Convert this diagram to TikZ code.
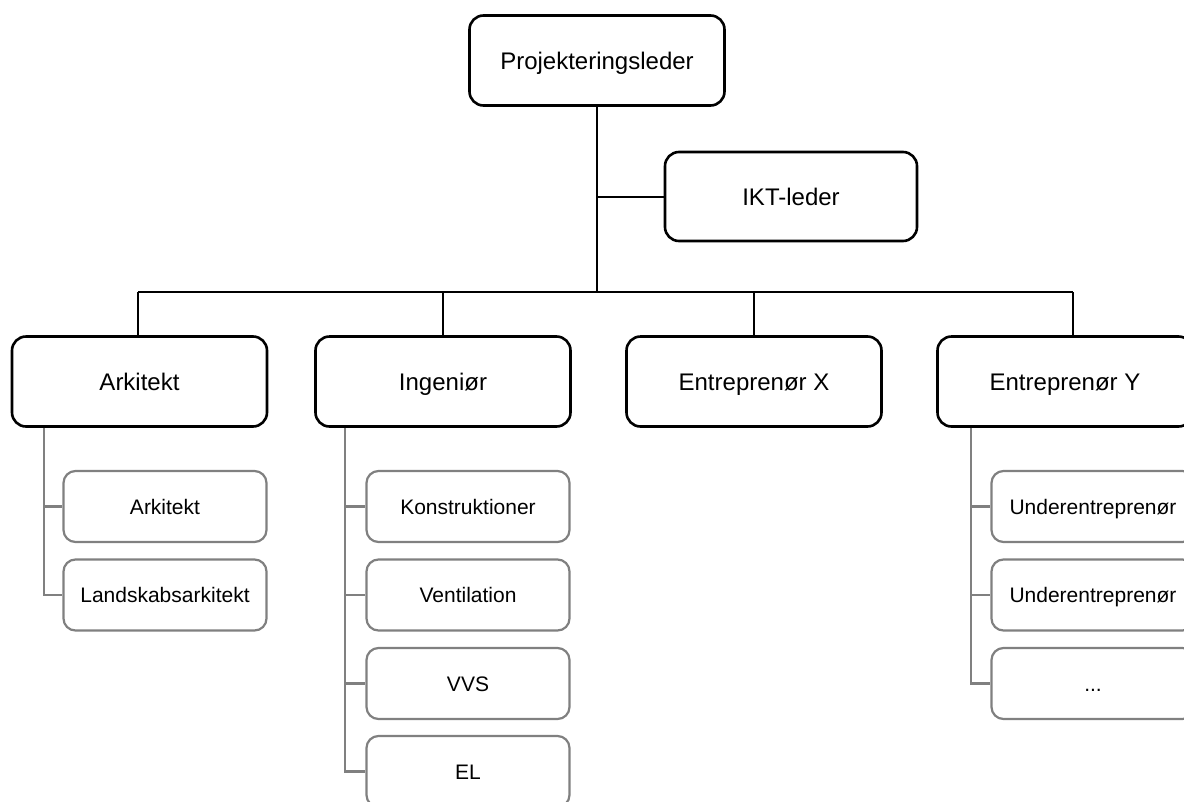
\documentclass[tikz,border=0pt]{standalone}
\usepackage{fontspec}
\setmainfont{Liberation Sans}
\begin{document}
\begin{tikzpicture}[x=1pt,y=-1pt,
  main/.style={draw=black, line width=2.6pt, rounded corners=14pt, minimum width=255pt, minimum height=90pt, font=\fontsize{24}{28}\selectfont, fill=white, inner sep=0pt, text height=22pt, text depth=5pt},
  sub/.style={draw=black!50, line width=2.2pt, rounded corners=12pt, minimum width=203pt, minimum height=71pt, font=\fontsize{21}{25}\selectfont, fill=white, inner sep=0pt, text height=19pt, text depth=4pt},
  link/.style={line width=2pt, draw=black},
  sublink/.style={line width=2.2pt, draw=black!50}]
\useasboundingbox (0,0) rectangle (1184,801);
\fill[white] (0,0) rectangle (1184,801);
\clip (0,0) rectangle (1184,801);
% main nodes
\node[main] (pl) at (597,60.5) {Projekteringsleder};
\node[main, minimum width=252pt, minimum height=89pt] (ikt) at (791,196.5) {IKT-leder};
\node[main] (ark) at (139.5,381.5) {Arkitekt};
\node[main] (ing) at (443,381.5) {Ingeniør};
\node[main] (ex) at (754,381.5) {Entreprenør X};
\node[main] (ey) at (1065,381.5) {Entreprenør Y};
% bus coordinates
\coordinate (hub) at (597,292);
\coordinate (b1) at (138,292);
\coordinate (b2) at (443,292);
\coordinate (b3) at (754,292);
\coordinate (b4) at (1073,292);
\draw[link] (pl.south) -- (hub);
\draw[link] (pl.south |- ikt.west) -- (ikt.west);
\draw[link] (b1) -- (b4);
\draw[link] (b1) -- (b1 |- ark.north);
\draw[link] (b2) -- (b2 |- ing.north);
\draw[link] (b3) -- (b3 |- ex.north);
\draw[link] (b4) -- (b4 |- ey.north);
% sub nodes
\node[sub] (a1) at (165,506.5) {Arkitekt};
\node[sub] (a2) at (165,595) {Landskabsarkitekt};
\node[sub] (i1) at (468,506.5) {Konstruktioner};
\node[sub] (i2) at (468,595) {Ventilation};
\node[sub] (i3) at (468,683.5) {VVS};
\node[sub] (i4) at (468,771.5) {EL};
\node[sub] (y1) at (1093,506.5) {Underentreprenør};
\node[sub] (y2) at (1093,595) {Underentreprenør};
\node[sub] (y3) at (1093,683.5) {...};
% sub stems
\coordinate (sa) at (44,0);
\coordinate (si) at (345,0);
\coordinate (sy) at (971,0);
\draw[sublink] (sa |- ark.south) |- (a2.west);
\draw[sublink] (sa |- a1.west) -- (a1.west);
\draw[sublink] (si |- ing.south) |- (i4.west);
\draw[sublink] (si |- i1.west) -- (i1.west);
\draw[sublink] (si |- i2.west) -- (i2.west);
\draw[sublink] (si |- i3.west) -- (i3.west);
\draw[sublink] (sy |- ey.south) |- (y3.west);
\draw[sublink] (sy |- y1.west) -- (y1.west);
\draw[sublink] (sy |- y2.west) -- (y2.west);
\end{tikzpicture}
\end{document}
